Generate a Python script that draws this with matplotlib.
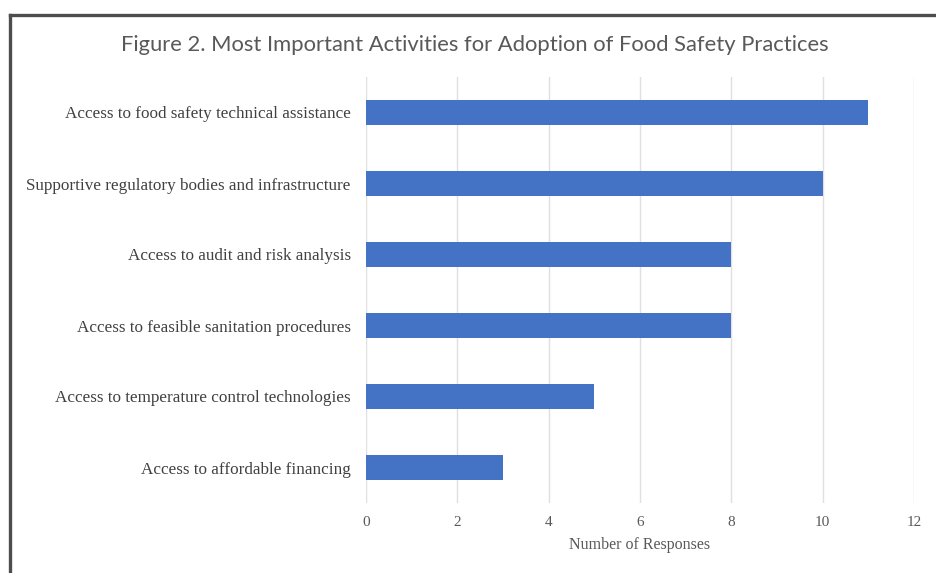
import numpy as np
import matplotlib
matplotlib.use("Agg")
import matplotlib.pyplot as plt
from matplotlib.lines import Line2D

# Survey responses, listed top to bottom as they appear
activities = [
    "Access to food safety technical assistance",
    "Supportive regulatory bodies and infrastructure",
    "Access to audit and risk analysis",
    "Access to feasible sanitation procedures",
    "Access to temperature control technologies",
    "Access to affordable financing",
]
responses = [11, 10, 8, 8, 5, 3]
xticks = [0, 2, 4, 6, 8, 10, 12]

bar_color = "#4472C4"
text_color = "#595959"

fig = plt.figure(figsize=(9.37, 5.73), dpi=100)
ax = fig.add_axes([366/937, 1-503/573, (914-366)/937, (503-77)/573])

y = np.arange(len(activities))
ax.barh(y, responses, height=0.35, color=bar_color, zorder=3)
ax.set_ylim(len(activities)-0.5, -0.5)
ax.set_xlim(0, 12)
ax.set_xticks(xticks)
ax.set_xticklabels([str(t) for t in xticks], family="Liberation Serif",
                   fontsize=11, color=text_color)
ax.set_yticks(y)
ax.set_yticklabels(activities, family="Liberation Serif", fontsize=12.3,
                   color="#404040")
ax.tick_params(axis="both", length=0)
ax.tick_params(axis="y", pad=11)
ax.tick_params(axis="x", pad=9)
ax.grid(axis="x", color="#e0e0e0", linewidth=1, zorder=0)
for s in ax.spines.values():
    s.set_visible(False)
ax.set_xlabel("Number of Responses", family="Liberation Serif", fontsize=11.5,
              color=text_color, labelpad=6)

fig.text(475/937, 1-45/573, "Figure 2. Most Important Activities for Adoption of Food Safety Practices",
         ha="center", va="center", family="Lato", fontsize=15.8, color=text_color)

# frame around the figure (top and left edges)
fig.add_artist(Line2D([10/937, 1], [1-15/573, 1-15/573], color="#4d4d4d", linewidth=2.4))
fig.add_artist(Line2D([10/937, 10/937], [0, 1-15/573], color="#4d4d4d", linewidth=2.4))

fig.savefig("out.png", dpi=100)
